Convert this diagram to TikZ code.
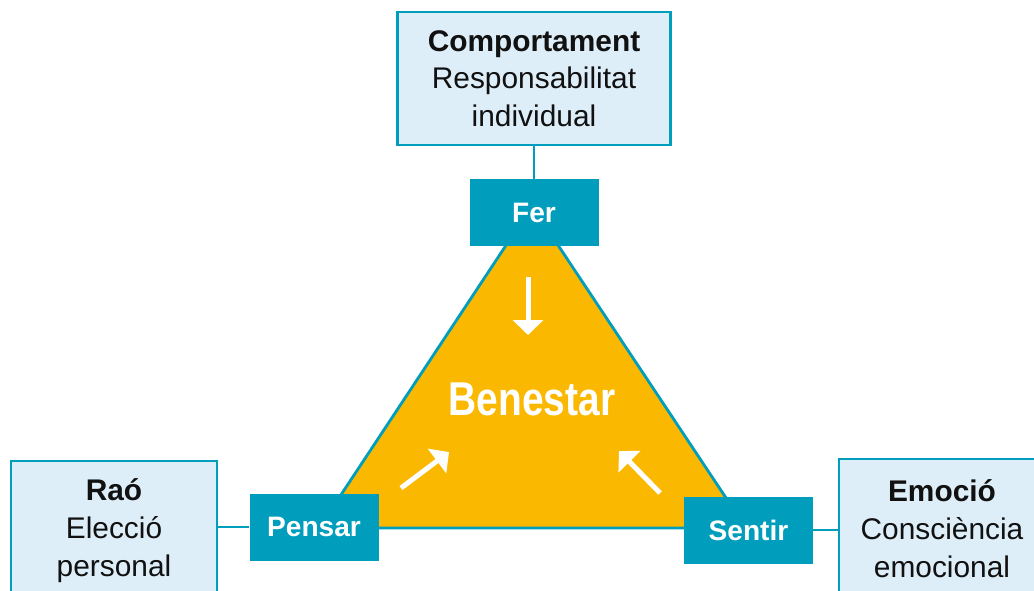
\documentclass[tikz,border=0pt]{standalone}
\usepackage{fontspec}
\setmainfont{Liberation Sans}
\newfontfamily\condfont[FakeStretch=0.82]{Liberation Sans}
\usetikzlibrary{arrows.meta}
\usetikzlibrary{positioning}
\definecolor{teal}{RGB}{0,157,188}
\definecolor{paleblue}{RGB}{222,238,248}
\definecolor{gold}{RGB}{250,185,0}
\definecolor{ink}{RGB}{17,17,17}
\tikzset{
infobox/.style={ % Sets the properties for each outer box
draw=teal,
line width=1.6pt,
fill=paleblue,
text=ink,
align=center,
font=\fontsize{17}{21.5}\selectfont},
actbox/.style={ % Sets the properties for Fer, Pensar, Sentir
fill=teal,
text=white,
minimum width=2.58cm,
minimum height=1.34cm,
font=\fontsize{16}{19}\selectfont\bfseries},
link/.style={ % Thin connectors
draw=teal,
line width=1.6pt},
flow/.style={ % White arrows inside the triangle
draw=white,
line width=0.1cm,
-{Triangle[width=0.6cm,length=0.3cm]}}}

\begin{document}
\begin{tikzpicture}
\clip (0,0) rectangle (20.68,-11.8);
% triangle corners
\coordinate (top) at (10.64,-4.12);
\coordinate (left) at (6.38,-10.56);
\coordinate (right) at (14.92,-10.56);
\filldraw[fill=gold, draw=teal, line width=1.6pt] (top) -- (left) -- (right) -- cycle;
\node[text=white, font=\condfont\fontsize{27}{30}\selectfont\bfseries] (ben) at (10.64,-7.98) {Benestar};
% arrows
\coordinate (a1) at (10.56,-5.54);
\coordinate (b1) at (10.56,-6.70);
\coordinate (a2) at (8.02,-9.76);
\coordinate (b2) at (8.98,-9.04);
\coordinate (a3) at (13.2,-9.86);
\coordinate (b3) at (12.38,-9.02);
\draw[flow] (a1) -- (b1);
\draw[flow] (a2) -- (b2);
\draw[flow] (a3) -- (b3);
% outer boxes
\node[infobox, minimum width=5.46cm, minimum height=2.66cm] (comp) at (10.68,-1.57) {\textbf{Comportament}\\Responsabilitat\\individual};
\node[infobox, minimum width=4.12cm, minimum height=2.78cm] (rao) at (2.28,-10.61) {\textbf{Raó}\\Elecció\\personal};
\node[infobox, minimum width=4.12cm, minimum height=2.78cm] (emocio) at (18.84,-10.57) {\textbf{Emoció}\\Consciència\\emocional};
% inner boxes
\node[actbox] (fer) at (10.68,-4.25) {Fer};
\node[actbox] (pensar) at (6.28,-10.54) {Pensar};
\node[actbox] (sentir) at (14.97,-10.6) {Sentir};
\draw[link] (comp) -- (fer);
\draw[link] (pensar.west) -- (pensar.west -| rao.east);
\draw[link] (sentir.east) -- (sentir.east -| emocio.west);
\end{tikzpicture}
\end{document}
